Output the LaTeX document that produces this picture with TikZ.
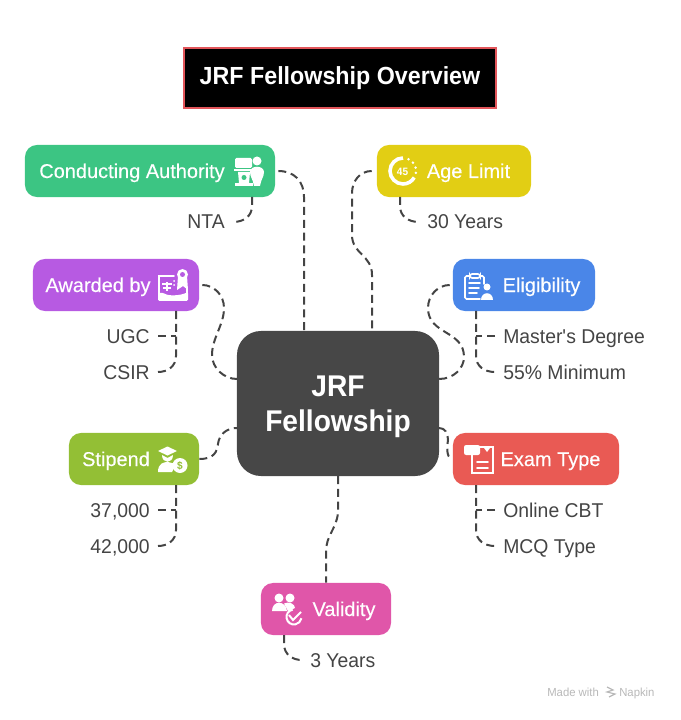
\documentclass[tikz,border=0pt]{standalone}
\usepackage{fontspec}
\setmainfont[FakeStretch=0.97, BoldFeatures={FakeStretch=0.94}]{Liberation Sans}
\newfontfamily\pillfont[FakeBold=0.25]{Liberation Sans}
\usetikzlibrary{calc}
\usetikzlibrary{positioning}
\definecolor{inkgray}{RGB}{68, 68, 68}
\definecolor{hubgray}{RGB}{71, 71, 71}
\definecolor{titlered}{RGB}{226, 85, 90}
\definecolor{emerald}{RGB}{60, 197, 131}
\definecolor{mustard}{RGB}{226, 206, 20}
\definecolor{amethyst}{RGB}{183, 90, 226}
\definecolor{cornflower}{RGB}{74, 134, 232}
\definecolor{olive}{RGB}{147, 191, 53}
\definecolor{coral}{RGB}{233, 90, 84}
\definecolor{orchid}{RGB}{224, 86, 169}
\definecolor{faint}{RGB}{184, 184, 184}
\newcommand{\iconroom}[1]{\rule{#1}{0pt}}
\tikzset{
  pill/.style={rounded corners=0.3cm, minimum height=1.3cm, inner sep=0pt, text=white,
               text height=0.35cm, text depth=0pt, font={\pillfont\fontsize{14.2pt}{17pt}\selectfont}},
  leaf/.style={inner xsep=0.2cm, inner ysep=0pt, text=inkgray,
               text height=0.35cm, text depth=0pt, font={\fontsize{14.2pt}{17pt}\selectfont}},
  mark text/.style={inner sep=0pt, text depth=0pt, anchor=west, text=faint, font={\fontsize{8.3pt}{10pt}\selectfont}},
  link/.style={draw=inkgray, line width=0.05cm, dash pattern=on 0.2cm off 0.12cm},
  glyph/.style={draw=white, line width=0.04cm, line cap=round},
}
\begin{document}
\begin{tikzpicture}[x=0.025cm, y=-0.025cm]
            \useasboundingbox (0,0) rectangle (680,720);
            % Title
            \node[draw=titlered, fill=black, line width=0.05cm, minimum width=7.8cm, minimum height=1.5cm, text=white,
                  font={\bfseries\fontsize{17.6pt}{21pt}\selectfont}] (title) at (340,78) {JRF Fellowship Overview};
            % Center
            \node[fill=hubgray, rounded corners=0.6cm, minimum width=5.05cm, minimum height=3.625cm, text=white, align=center,
                  text depth=0pt, font={\bfseries\fontsize{21.3pt}{24.9pt}\selectfont}] (hub) at (338,403.5) {JRF\\Fellowship};
            % Branches
            \node[pill, fill=emerald,    minimum width=6.25cm] (authority)   at (150,171) {Conducting Authority\iconroom{0.9cm}};
            \node[pill, fill=mustard,    minimum width=3.85cm] (age)         at (454,171) {\iconroom{0.725cm}Age Limit};
            \node[pill, fill=amethyst,   minimum width=4.15cm] (awarded)     at (116,285) {Awarded by\iconroom{0.9cm}};
            \node[pill, fill=cornflower, minimum width=3.55cm] (eligibility) at (524,285) {\iconroom{0.875cm}Eligibility};
            \node[pill, fill=olive,      minimum width=3.25cm] (stipend)     at (134,459) {Stipend\iconroom{0.9cm}};
            \node[pill, fill=coral,      minimum width=4.15cm] (exam)        at (536,459) {\iconroom{0.725cm}Exam Type};
            \node[pill, fill=orchid,     minimum width=3.25cm] (validity)    at (326,609) {\iconroom{0.9cm}Validity};
            % Leaves
            \node[leaf, anchor=east] (nta)     at (233,222) {NTA};
            \node[leaf, anchor=west] (years30) at (419,222) {30 Years};
            \node[leaf, anchor=east] (ugc)     at (158,336) {UGC};
            \node[leaf, anchor=east] (csir)    at (158,372) {CSIR};
            \node[leaf, anchor=west] (masters) at (495,336) {Master\textquotesingle s Degree};
            \node[leaf, anchor=west] (minimum) at (495,372) {55\% Minimum};
            \node[leaf, anchor=east] (low)     at (158,510) {37,000};
            \node[leaf, anchor=east] (high)    at (158,546) {42,000};
            \node[leaf, anchor=west] (cbt)     at (495,510) {Online CBT};
            \node[leaf, anchor=west] (mcq)     at (495,546) {MCQ Type};
            \node[leaf, anchor=west] (years3)  at (302,660) {3 Years};
            % Attachment points
            \coordinate (hubA) at (304,331);
            \coordinate (hubB) at (372,331);
            \coordinate (hubC) at (237,379);
            \coordinate (hubD) at (439,379);
            \coordinate (hubE) at (237,428);
            \coordinate (hubF) at (439,428);
            \coordinate (hubG) at (338,476);
            \coordinate (authorityFoot)   at (252,197);
            \coordinate (ageFoot)         at (400,197);
            \coordinate (awardedFoot)     at (176,311);
            \coordinate (eligibilityFoot) at (476,311);
            \coordinate (stipendFoot)     at (176,485);
            \coordinate (examFoot)        at (476,485);
            \coordinate (validityFoot)    at (284,635);
            % Hub links
            \draw[link] (authority.east) ++(3,0) .. controls (294,171) and (304,181) .. (304,197) -- (hubA);
            \draw[link] (age.west) ++(-5,0) .. controls (360,171) and (352,181) .. (352,193) -- (352,235)
                 .. controls (352,254) and (372,255) .. (372,275) -- (hubB);
            \draw[link] (awarded.east) ++(3,0) .. controls (214,285) and (224,295) .. (224,308)
                 .. controls (224,325) and (212,338) .. (212,355) .. controls (212,368) and (224,379) .. (hubC);
            \draw[link] (eligibility.west) ++(-3,0) .. controls (438,285) and (428,295) .. (428,308)
                 .. controls (428,335) and (464,330) .. (464,357) .. controls (464,368) and (454,379) .. (hubD);
            \draw[link] (stipend.east) .. controls (214,459) and (217,452) .. (218,444) .. controls (219,435) and (226,428) .. (hubE);
            \draw[link] (hubF) .. controls (445,428) and (448,433) .. (448,440) .. controls (446,452) and (448,459) .. (exam.west);
            \draw[link] (hubG) -- (338,513) .. controls (336,530) and (326,535) .. (326,552) -- (validity.north);
            % Leaf links
            \draw[link] (authorityFoot) -- (252,206) .. controls (252,216) and (244,222) .. (nta.east);
            \draw[link] (ageFoot) -- (400,206) .. controls (400,216) and (408,222) .. (years30.west);
            \draw[link] (awardedFoot) -- (176,356) .. controls (176,366) and (168,372) .. (csir.east);
            \draw[link] (ugc.east) -- (176,336);
            \draw[link] (eligibilityFoot) -- (476,356) .. controls (476,366) and (484,372) .. (minimum.west);
            \draw[link] (masters.west) -- (476,336);
            \draw[link] (stipendFoot) -- (176,530) .. controls (176,540) and (168,546) .. (high.east);
            \draw[link] (low.east) -- (176,510);
            \draw[link] (examFoot) -- (476,530) .. controls (476,540) and (484,546) .. (mcq.west);
            \draw[link] (cbt.west) -- (476,510);
            \draw[link] (validityFoot) -- (284,644) .. controls (284,654) and (292,660) .. (years3.west);
            % Icon: podium and speaker
            \fill[white, rounded corners=1pt] (235,158) rectangle (252,168);
            \fill[white] (234,169) rectangle (254,171.5);
            \fill[white] (238,172) -- (250,172) -- (249,183) -- (239,183) -- cycle;
            \fill[white] (235,183) rectangle (253,186);
            \fill[emerald] (244,177.5) circle [radius=2.5];
            \fill[white] (257,161) circle [radius=4.5];
            \fill[white] (250,172) .. controls (250,165) and (264,165) .. (264,172)
                 .. controls (264,177) and (261,179) .. (260,186) -- (254,186) .. controls (253,179) and (250,177) .. (250,172) -- cycle;
            % Icon: medal over certificate
            \draw[glyph] (174,276) -- (159,276) -- (159,294);
            \draw[glyph] (187,288) -- (187,294);
            \fill[white, rounded corners=1pt] (158,293) -- (164,293) .. controls (168,296) and (180,296) .. (188,292) -- (188,301) -- (158,301) -- cycle;
            \fill[white] (166,282) rectangle (167.5,291);
            \fill[white] (162,283) rectangle (172,285);
            \fill[white] (163,287) rectangle (171,289);
            \fill[white] (174,281) circle [radius=1];
            \fill[white] (174,285) circle [radius=1];
            \fill[white] (178,276) -- (187,276) -- (188,290) -- (183,286) -- (177,290) -- cycle;
            \fill[white] (182.5,274.5) circle [radius=5.5];
            \fill[amethyst] (182.5,274.5) circle [radius=2.5];
            % Icon: age dial
            \draw[white, line width=0.09cm] (403,158) arc [start angle=-90, end angle=-330, radius=13];
            \foreach \a in {-65,-40,-15,8}
                \fill[white] (403,171) ++(\a:13) circle [radius=1.4];
            \node[text=white, inner sep=0pt, font={\bfseries\fontsize{7.6pt}{9pt}\selectfont}] (ageNumber) at (402.5,171.5) {45};
            % Icon: clipboard and person
            \draw[glyph, rounded corners=1pt] (480,276) -- (484,276) -- (484,284);
            \draw[glyph, rounded corners=1pt] (480,299) -- (465,299) -- (465,276) -- (470,276);
            \draw[glyph, rounded corners=1.5pt] (470,278) -- (470,274) -- (480,274) -- (480,278) -- cycle;
            \draw[glyph] (469,283) -- (480,283);
            \draw[glyph] (469,288) -- (479,288);
            \draw[glyph] (469,293) -- (477,293);
            \fill[white] (487,287) circle [radius=3.5];
            \fill[white] (481,300) .. controls (481,291) and (493,291) .. (493,300) -- cycle;
            % Icon: scholar with coin
            \fill[white] (158,451) -- (167.5,446.5) -- (177,451) -- (167.5,455.5) -- cycle;
            \fill[white] (162,455) .. controls (162,464) and (173,464) .. (173,455) -- (167.5,458) -- cycle;
            \fill[white] (158,472) .. controls (158,463) and (164,462) .. (168,462) -- (176,464) -- (172,472) -- cycle;
            \fill[white] (180,465.5) circle [radius=7.5];
            \node[text=olive, inner sep=0pt, font={\bfseries\fontsize{7.6pt}{9pt}\selectfont}] (coinSign) at (180,465.5) {\$};
            % Icon: exam sheet
            \draw[glyph] (472,455) -- (472,473) -- (493,473) -- (493,447) -- (478,447);
            \fill[white, rounded corners=1.5pt] (464,445) rectangle (480,455);
            \fill[white] (484,448) -- (490,448) -- (487,452) -- cycle;
            \draw[glyph] (477,462) -- (488,462);
            \draw[glyph] (477,468) -- (488,468);
            % Icon: people with check
            \fill[white] (279,598) circle [radius=4.5];
            \fill[white] (290,598) circle [radius=4.5];
            \fill[white] (272,611) .. controls (272,600) and (286,600) .. (287,611) -- cycle;
            \fill[white] (284,603.5) .. controls (289,601) and (295,604) .. (295,608) -- (288,611) -- cycle;
            \draw[white, line width=0.05cm] (292.7,609.6) arc [start angle=-100, end angle=-350, radius=7.5];
            \draw[white, line width=0.05cm] (289,615) -- (293,620) -- (301,612);
            % Watermark
            \node[mark text] (madeWith) at (547,692) {Made with};
            \node[mark text] (napkin) at (619,692) {Napkin};
            \draw[faint, line width=0.03cm] (607,687) -- (613,690) -- (607,692) -- (615,694) -- (609,697);
        \end{tikzpicture}
\end{document}
